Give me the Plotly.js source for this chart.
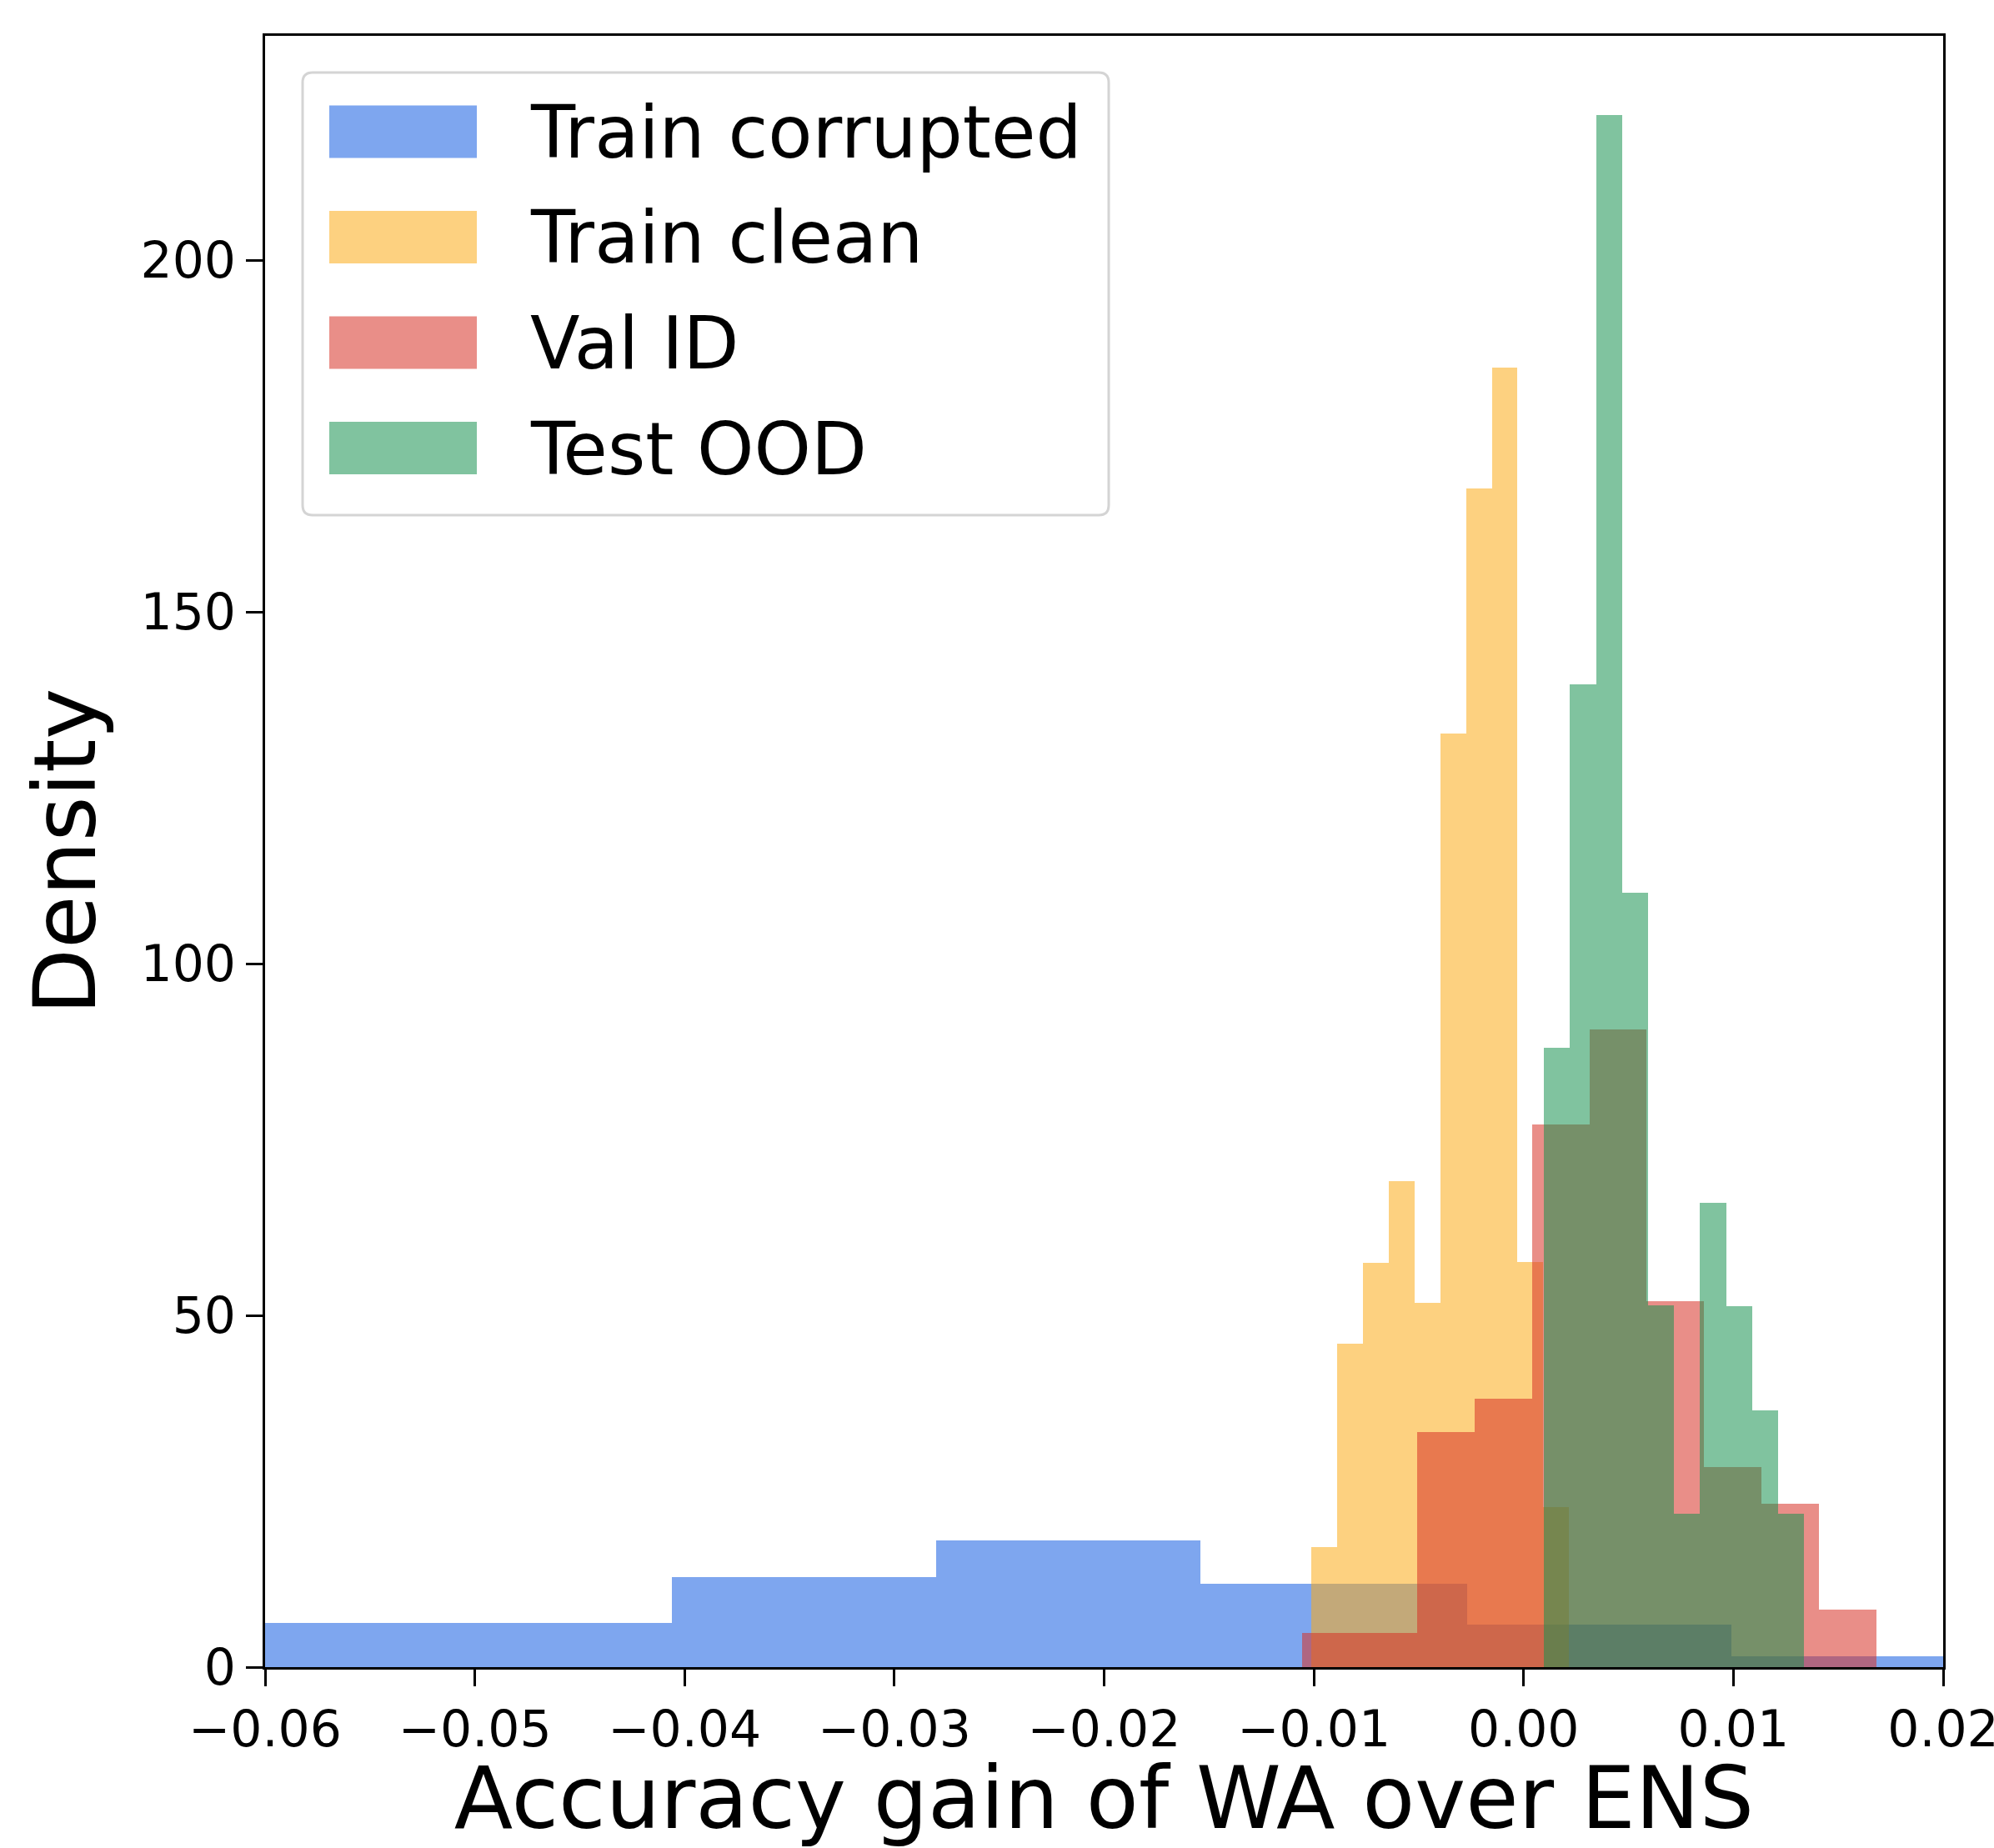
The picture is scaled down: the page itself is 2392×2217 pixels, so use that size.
<!DOCTYPE html>
<html>
<head>
<meta charset="utf-8">
<script src="https://cdn.plot.ly/plotly-3.0.1.min.js"></script>
<style>
  html, body { margin: 0; padding: 0; background: #fff; }
  #chart { width: 2392px; height: 2217px; }
</style>
</head>
<body>
<div id="chart"></div>
<script>
// ---- Data ----
const seriesNames = ["Train corrupted", "Train clean", "Val ID", "Test OOD"];

// Train corrupted: bin edges and density
const trainCorruptedEdges = [-0.0659, -0.0533, -0.0406, -0.0280, -0.0154, -0.0027, 0.0099, 0.0226];
const trainCorruptedDensity = [6.3, 6.3, 12.8, 18.0, 11.9, 6.0, 1.5];

// Train clean
const trainCleanEdges = [-0.01013, -0.00890, -0.00767, -0.00644, -0.00521, -0.00398, -0.00275, -0.00152, -0.00029, 0.00094, 0.00217];
const trainCleanDensity = [17.1, 46.0, 57.5, 69.1, 51.8, 132.7, 167.6, 184.7, 57.6, 22.8];

// Val ID
const valIdEdges = [-0.01055, -0.00782, -0.00509, -0.00233, 0.00041, 0.00315, 0.00585, 0.00860, 0.01134, 0.01408, 0.01682];
const valIdDensity = [4.9, 4.9, 33.4, 38.2, 77.2, 90.6, 52.0, 28.4, 23.2, 8.2];

// Test OOD
const testOodEdges = [0.00097, 0.00221, 0.00345, 0.00469, 0.00593, 0.00717, 0.00841, 0.00965, 0.01089, 0.01213, 0.01337];
const testOodDensity = [88.1, 139.7, 220.7, 110.1, 51.4, 21.8, 66.0, 51.3, 36.5, 21.8];

const xTickVals = [-0.06, -0.05, -0.04, -0.03, -0.02, -0.01, 0.00, 0.01, 0.02];
const xTickText = ["\u22120.06", "\u22120.05", "\u22120.04", "\u22120.03", "\u22120.02", "\u22120.01", "0.00", "0.01", "0.02"];
const yTickVals = [0, 50, 100, 150, 200];

// ---- Styles ----
const colors = [
  "rgba(20,93,226,0.55)",
  "rgba(251,171,24,0.55)",
  "rgba(215,50,39,0.55)",
  "rgba(24,146,80,0.55)"
];
const FONT = "DejaVu Sans, Liberation Sans, sans-serif";

function barTrace(edges, heights, name, color) {
  const x = [], w = [];
  for (let i = 0; i < heights.length; i++) {
    x.push((edges[i] + edges[i + 1]) / 2);
    w.push(edges[i + 1] - edges[i]);
  }
  return {
    type: "bar", x: x, y: heights, width: w, name: name,
    marker: { color: color, line: { width: 0 } },
    showlegend: false, hoverinfo: "x+y"
  };
}

const data = [
  barTrace(trainCorruptedEdges, trainCorruptedDensity, seriesNames[0], colors[0]),
  barTrace(trainCleanEdges, trainCleanDensity, seriesNames[1], colors[1]),
  barTrace(valIdEdges, valIdDensity, seriesNames[2], colors[2]),
  barTrace(testOodEdges, testOodDensity, seriesNames[3], colors[3])
];

// ---- Layout geometry (pixels) ----
const W = 2392, H = 2217;
const L = 318, R = 2331, T = 43, B = 2000;
const px = v => (v - L) / (R - L);
const py = v => (B - v) / (B - T);

// Custom legend drawn like matplotlib's
const shapes = [];
const annotations = [];
(function () {
  const x0 = px(363), x1 = px(1330), y0 = py(87), y1 = py(618);
  const rx = 12 / (R - L), ry = 12 / (B - T);
  const path = `M${x0 + rx},${y0} L${x1 - rx},${y0} Q${x1},${y0} ${x1},${y0 - ry} ` +
    `L${x1},${y1 + ry} Q${x1},${y1} ${x1 - rx},${y1} L${x0 + rx},${y1} Q${x0},${y1} ${x0},${y1 + ry} ` +
    `L${x0},${y0 - ry} Q${x0},${y0} ${x0 + rx},${y0} Z`;
  shapes.push({ type: "path", xref: "paper", yref: "paper", path: path,
    fillcolor: "rgba(255,255,255,0.8)", line: { color: "#d4d4d4", width: 3 } });
  const rowCenters = [158, 284.5, 411, 537.5];
  rowCenters.forEach((c, i) => {
    shapes.push({ type: "rect", xref: "paper", yref: "paper",
      x0: px(395), x1: px(572), y0: py(c - 31.5), y1: py(c + 31.5),
      fillcolor: colors[i], line: { width: 0 } });
    annotations.push({ xref: "paper", yref: "paper", x: px(634), y: py(c + 1),
      xanchor: "left", yanchor: "middle", showarrow: false, text: seriesNames[i],
      font: { family: FONT, size: 87, color: "#000" } });
  });
})();

const layout = {
  width: W, height: H,
  margin: { l: L, r: W - R, t: T, b: H - B, pad: 0 },
  paper_bgcolor: "#fff", plot_bgcolor: "#fff",
  barmode: "overlay", bargap: 0,
  showlegend: false,
  font: { family: FONT, color: "#000" },
  xaxis: {
    range: [-0.06, 0.0200001], autorange: false,
    tickmode: "array", tickvals: xTickVals, ticktext: xTickText,
    ticklabeloverflow: "allow",
    ticks: "outside", ticklen: 20, tickwidth: 3, tickcolor: "#000",
    tickfont: { family: FONT, size: 60, color: "#000" },
    showline: true, linecolor: "#000", linewidth: 3, mirror: true,
    showgrid: false, zeroline: false,
    title: { text: "Accuracy gain of WA over ENS", font: { family: FONT, size: 103, color: "#000" }, standoff: 19 },
    automargin: false
  },
  yaxis: {
    range: [0, 231.9], autorange: false,
    tickmode: "array", tickvals: yTickVals,
    ticks: "outside", ticklen: 20, tickwidth: 3, tickcolor: "#000",
    tickfont: { family: FONT, size: 60, color: "#000" },
    showline: true, linecolor: "#000", linewidth: 3, mirror: true,
    showgrid: false, zeroline: false,
    title: { text: "Density", font: { family: FONT, size: 103, color: "#000" }, standoff: 20 },
    automargin: false
  },
  shapes: shapes,
  annotations: annotations
};

Plotly.newPlot("chart", data, layout, { displayModeBar: false, staticPlot: true });
</script>
</body>
</html>
